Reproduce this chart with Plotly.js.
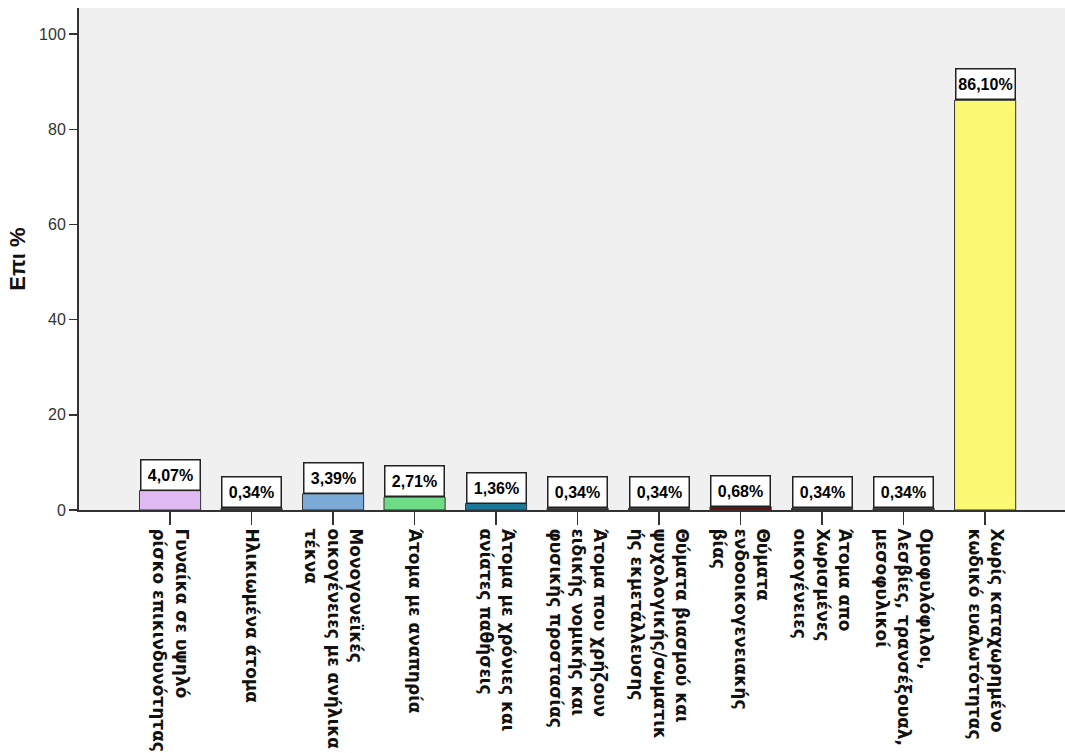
<!DOCTYPE html>
<html>
<head>
<meta charset="utf-8">
<script src="https://cdn.plot.ly/plotly-3.0.1.min.js"></script>
<style>html,body{margin:0;padding:0;background:#fff;overflow:hidden;}#chart{width:1065px;height:753px;}</style>
</head>
<body>
<div id="chart"></div>
<script>
const categories = [
  "Γυναίκα σε υψηλό<br>ρίσκο επικινδυνότητας",
  "Ηλικιωμένα άτομα",
  "Μονογονεϊκές<br>οικογένειες με ανήλικα<br>τέκνα",
  "Άτομα με αναπηρία",
  "Άτομα με χρόνιες και<br>ανίατες παθήσεις",
  "Άτομα που χρήζουν<br>ειδικής νομικής και<br>φυσικής προστασίας",
  "Θύματα βιασμού και<br>ψυχολογικής/σωματικ<br>ής εκμετάλλευσης",
  "Θύματα<br>ενδοοικογενειακής<br>βίας",
  "Άτομα απο<br>Χωρισμένες<br>οικογένειες",
  "Ομοφυλόφιλοι,<br>Λεσβίες, τρανσέξουαλ,<br>μεσοφυλικοί",
  "Χωρίς καταχωρημένο<br>κωδικό ευαλωτότητας"
];
const values = [4.07, 0.34, 3.39, 2.71, 1.36, 0.34, 0.34, 0.68, 0.34, 0.34, 86.10];
const barColors = ["#dfb9f1", "#3a3a3a", "#7aaad5", "#6edc84", "#1c7899", "#3a3a3a", "#3a3a3a", "#5e1414", "#3a3a3a", "#3a3a3a", "#fbf873"];
const yTicks = [0, 20, 40, 60, 80, 100];
const yTitle = "Επι %";

const fmt = v => v.toFixed(2).replace(".", ",") + "%";

const trace = {
  type: "bar",
  x: categories,
  y: values,
  marker: { color: barColors, line: { color: "#333", width: 1 } },
  hoverinfo: "none"
};

const annotations = categories.map((c, i) => ({
  x: c, y: values[i], xref: "x", yref: "y",
  yanchor: "bottom", xanchor: "center",
  text: fmt(values[i]),
  showarrow: false,
  bgcolor: "#ffffff", bordercolor: "#222", borderwidth: 1.5, borderpad: 1,
  width: 56, height: 27,
  font: { family: "Liberation Sans, Arial, sans-serif", size: 16, color: "#000", weight: "bold" }
}));

const layout = {
  width: 1065, height: 753,
  margin: { l: 79, r: 0, t: 8, b: 243 },
  paper_bgcolor: "#ffffff",
  plot_bgcolor: "#f0f0f0",
  bargap: 0.25,
  showlegend: false,
  xaxis: {
    type: "category",
    range: [-1.117, 10.98],
    showline: true, linecolor: "#333", linewidth: 2,
    ticks: "outside", ticklen: 13, tickcolor: "#333", tickwidth: 1.5,
    tickangle: 90,
    showgrid: false, automargin: false,
    tickfont: { family: "DejaVu Sans, Liberation Sans, sans-serif", size: 17, color: "#111", weight: "bold" }
  },
  yaxis: {
    range: [0, 105.5],
    tickvals: yTicks,
    showline: true, linecolor: "#333", linewidth: 2,
    ticks: "outside", ticklen: 8, tickcolor: "#333", tickwidth: 1.5,
    showgrid: false, zeroline: false, automargin: false,
    tickfont: { family: "Liberation Sans, Arial, sans-serif", size: 16, color: "#333" },
    title: { text: yTitle, standoff: 7, font: { family: "Liberation Sans, Arial, sans-serif", size: 22, color: "#111", weight: "bold" } }
  },
  annotations: annotations
};

Plotly.newPlot("chart", [trace], layout, { displayModeBar: false, staticPlot: true });
</script>
</body>
</html>
